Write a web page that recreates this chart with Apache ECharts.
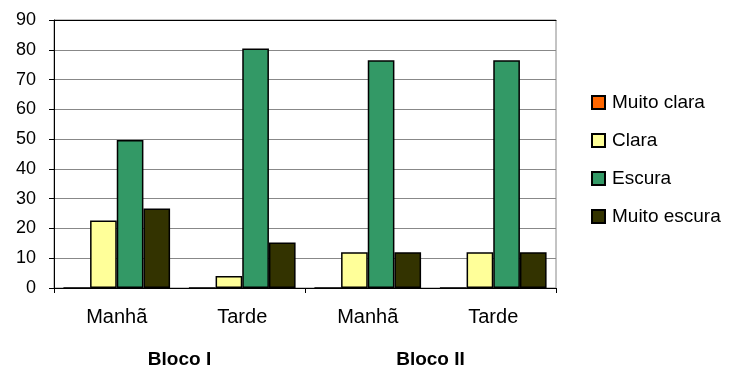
<!DOCTYPE html>
<html>
<head>
<meta charset="UTF-8" />
<title>Bloco chart</title>
<style>
  html, body { margin: 0; padding: 0; background: #fff; }
  #chart { width: 732px; height: 371px; }
</style>
</head>
<body>
<div id="chart"></div>
<script src="https://cdn.jsdelivr.net/npm/echarts@6/dist/echarts.min.js"></script>
<script>
const periods = ["Manhã", "Tarde", "Manhã", "Tarde"];
const blocks = ["Bloco I", "Bloco II"];
const yTicks = [0, 10, 20, 30, 40, 50, 60, 70, 80, 90];

const muitoClara = [0, 0, 0, 0];
const clara = [22.7, 4, 12, 12];
const escura = [49.7, 80.4, 76.5, 76.5];
const muitoEscura = [26.7, 15.3, 12, 12];

const seriesNames = ["Muito clara", "Clara", "Escura", "Muito escura"];
const seriesData = [muitoClara, clara, escura, muitoEscura];
const colors = ["#FF6600", "#FFFF99", "#339966", "#333300"];

const font = "Liberation Sans, Arial, sans-serif";
const chart = echarts.init(document.getElementById("chart"));

chart.setOption({
    animation: false,
    textStyle: { fontFamily: font },
    grid: { left: 54, right: 176, top: 20, bottom: 83, show: true, borderColor: "#888", borderWidth: 1 },
    legend: {
        orient: "vertical",
        left: 586,
        top: 88,
        icon: "rect",
        itemWidth: 13,
        itemHeight: 13,
        itemGap: 19,
        data: seriesNames,
        textStyle: { fontFamily: font, fontSize: 19, color: "#000", padding: [0, 0, 0, 2] }
    },
    xAxis: [
        {
            type: "category",
            data: periods,
            position: "bottom",
            axisLine: { lineStyle: { color: "#000", width: 1 } },
            axisTick: { show: false },
            axisLabel: { fontSize: 20, color: "#000", margin: 19, fontFamily: font }
        },
        {
            type: "category",
            data: blocks,
            position: "bottom",
            axisLine: { show: false },
            axisTick: { show: true, length: 5, lineStyle: { color: "#000" } },
            axisLabel: { fontSize: 19, fontWeight: "bold", color: "#000", margin: 62, fontFamily: font }
        },
        {
            type: "category",
            data: periods,
            position: "top",
            axisLine: { lineStyle: { color: "#000", width: 1 } },
            axisTick: { show: false },
            axisLabel: { show: false }
        }
    ],
    yAxis: {
        type: "value",
        min: yTicks[0],
        max: yTicks[yTicks.length - 1],
        interval: 10,
        axisLine: { show: true, lineStyle: { color: "#000" } },
        axisTick: { show: true, length: 5, lineStyle: { color: "#000" } },
        axisLabel: { fontSize: 18, color: "#000", margin: 18, fontFamily: font },
        splitLine: { lineStyle: { color: "#888", width: 1 } }
    },
    series: seriesNames.map((name, i) => ({
        name: name,
        type: "bar",
        xAxisIndex: 0,
        data: seriesData[i],
        barGap: "0%",
        barCategoryGap: "15%",
        itemStyle: { color: colors[i], borderColor: "#000", borderWidth: 1.5 }
    }))
});
</script>
</body>
</html>
